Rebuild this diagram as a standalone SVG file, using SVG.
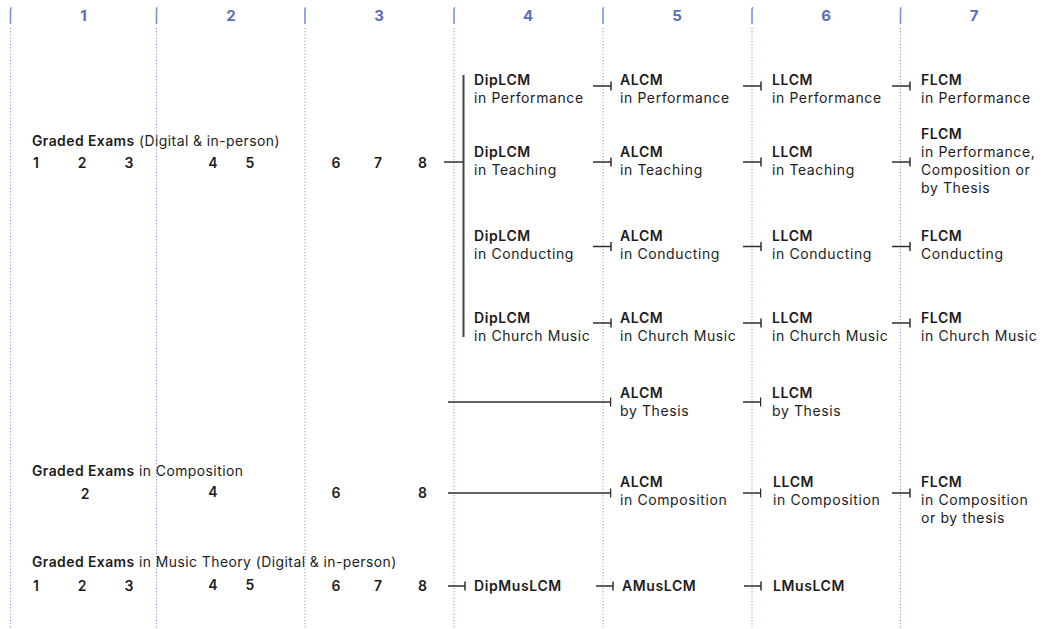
<svg xmlns="http://www.w3.org/2000/svg" width="1047" height="629" viewBox="0 0 1047 629">
<style>
text{font-family:Inter,"Liberation Sans",sans-serif;font-size:14px;fill:#1c1c1c;letter-spacing:0.6px}
.l{font-size:13.9px;letter-spacing:0.45px}
.b{font-weight:600}
.r{font-weight:400}
.h{font-weight:700;fill:#5b6fb9;font-size:15px;text-anchor:middle;letter-spacing:0}
.n{font-weight:600;text-anchor:middle;letter-spacing:0}
.grid{stroke:#6f82d2;stroke-width:1;stroke-dasharray:1 2.2}
.brk{stroke:#7f90d3;stroke-width:1.6;fill:none}
.c{stroke:#2e2e2e;stroke-width:1.5;fill:none}
.bar{stroke:#444;stroke-width:2;fill:none}
</style>
<defs>
<marker id="tick" viewBox="-1 -5 2 10" refX="0" refY="0" markerWidth="2" markerHeight="10" markerUnits="userSpaceOnUse" orient="auto">
<path d="M0,-4.5 V4.5" stroke="#2e2e2e" stroke-width="1.5"/>
</marker>
</defs>
<g id="grid">
<g id="col-lines">
<line class="grid" x1="10.5" y1="28" x2="10.5" y2="629"/>
<line class="grid" x1="156.5" y1="28" x2="156.5" y2="629"/>
<line class="grid" x1="305" y1="28" x2="305" y2="629"/>
<line class="grid" x1="454" y1="28" x2="454" y2="629"/>
<line class="grid" x1="603" y1="28" x2="603" y2="629"/>
<line class="grid" x1="752" y1="28" x2="752" y2="629"/>
<line class="grid" x1="900.5" y1="28" x2="900.5" y2="629"/>
</g>
<g id="brackets">
<path class="brk" d="M11.5,7.5 Q10.5,8 10.5,10 V24"/>
<path class="brk" d="M157.5,7.5 Q156.5,8 156.5,10 V24"/>
<path class="brk" d="M306,7.5 Q305,8 305,10 V24"/>
<path class="brk" d="M455,7.5 Q454,8 454,10 V24"/>
<path class="brk" d="M604,7.5 Q603,8 603,10 V24"/>
<path class="brk" d="M753,7.5 Q752,8 752,10 V24"/>
<path class="brk" d="M901.5,7.5 Q900.5,8 900.5,10 V24"/>
</g>
<g id="headers">
<text class="h" x="83.5" y="21">1</text>
<text class="h" x="231" y="21">2</text>
<text class="h" x="379" y="21">3</text>
<text class="h" x="528" y="21">4</text>
<text class="h" x="677" y="21">5</text>
<text class="h" x="826" y="21">6</text>
<text class="h" x="974" y="21">7</text>
</g>
</g>
<g id="connectors">
<line class="bar" x1="463.5" y1="75" x2="463.5" y2="337"/>
<line class="c" x1="444" y1="162" x2="463" y2="162"/>
<line class="c" x1="593" y1="86" x2="611" y2="86" marker-end="url(#tick)"/>
<line class="c" x1="743" y1="86" x2="761" y2="86" marker-end="url(#tick)"/>
<line class="c" x1="892" y1="86" x2="910" y2="86" marker-end="url(#tick)"/>
<line class="c" x1="593" y1="162" x2="611" y2="162" marker-end="url(#tick)"/>
<line class="c" x1="743" y1="162" x2="761" y2="162" marker-end="url(#tick)"/>
<line class="c" x1="892" y1="162" x2="910" y2="162" marker-end="url(#tick)"/>
<line class="c" x1="593" y1="246.5" x2="611" y2="246.5" marker-end="url(#tick)"/>
<line class="c" x1="743" y1="246.5" x2="761" y2="246.5" marker-end="url(#tick)"/>
<line class="c" x1="892" y1="246.5" x2="910" y2="246.5" marker-end="url(#tick)"/>
<line class="c" x1="593" y1="323" x2="611" y2="323" marker-end="url(#tick)"/>
<line class="c" x1="743" y1="323" x2="761" y2="323" marker-end="url(#tick)"/>
<line class="c" x1="892" y1="323" x2="910" y2="323" marker-end="url(#tick)"/>
<line class="c" x1="448" y1="402" x2="610.5" y2="402" marker-end="url(#tick)"/>
<line class="c" x1="743" y1="402" x2="760.5" y2="402" marker-end="url(#tick)"/>
<line class="c" x1="448" y1="493" x2="610.5" y2="493" marker-end="url(#tick)"/>
<line class="c" x1="743" y1="493" x2="760.5" y2="493" marker-end="url(#tick)"/>
<line class="c" x1="892" y1="493" x2="910" y2="493" marker-end="url(#tick)"/>
<line class="c" x1="448" y1="586" x2="465" y2="586" marker-end="url(#tick)"/>
<line class="c" x1="596" y1="586" x2="613" y2="586" marker-end="url(#tick)"/>
<line class="c" x1="744" y1="586" x2="761" y2="586" marker-end="url(#tick)"/>
</g>
<g id="graded-exams">
<text class="l" x="32" y="145.5"><tspan class="b">Graded Exams</tspan><tspan class="r"> (Digital &amp; in-person)</tspan></text>
<text class="n" x="36" y="167.5">1</text>
<text class="n" x="82" y="167.5">2</text>
<text class="n" x="129" y="167.5">3</text>
<text class="n" x="213" y="167.5">4</text>
<text class="n" x="250" y="167.5">5</text>
<text class="n" x="336" y="167.5">6</text>
<text class="n" x="378" y="167.5">7</text>
<text class="n" x="422.5" y="167.5">8</text>
</g>
<g id="graded-composition">
<text class="l" x="32" y="476"><tspan class="b">Graded Exams</tspan><tspan class="r"> in Composition</tspan></text>
<text class="n" x="85" y="499">2</text>
<text class="n" x="213" y="496.5">4</text>
<text class="n" x="336" y="498">6</text>
<text class="n" x="422.5" y="498">8</text>
</g>
<g id="graded-theory">
<text class="l" x="32" y="566.5"><tspan class="b">Graded Exams</tspan><tspan class="r"> in Music Theory (Digital &amp; in-person)</tspan></text>
<text class="n" x="36" y="591">1</text>
<text class="n" x="82" y="591">2</text>
<text class="n" x="129" y="591">3</text>
<text class="n" x="213" y="589.5">4</text>
<text class="n" x="250" y="589.5">5</text>
<text class="n" x="336" y="591">6</text>
<text class="n" x="378" y="591">7</text>
<text class="n" x="422.5" y="591">8</text>
</g>
<g id="dip-performance"><text class="b" x="474" y="85">DipLCM</text><text class="r" x="474" y="103">in Performance</text></g>
<g id="alcm-performance"><text class="b" x="620" y="85">ALCM</text><text class="r" x="620" y="103">in Performance</text></g>
<g id="llcm-performance"><text class="b" x="772" y="85">LLCM</text><text class="r" x="772" y="103">in Performance</text></g>
<g id="flcm-performance"><text class="b" x="921" y="85">FLCM</text><text class="r" x="921" y="103">in Performance</text></g>
<g id="dip-teaching"><text class="b" x="474" y="157">DipLCM</text><text class="r" x="474" y="175">in Teaching</text></g>
<g id="alcm-teaching"><text class="b" x="620" y="157">ALCM</text><text class="r" x="620" y="175">in Teaching</text></g>
<g id="llcm-teaching"><text class="b" x="772" y="157">LLCM</text><text class="r" x="772" y="175">in Teaching</text></g>
<g id="flcm-combined"><text class="b" x="921" y="139">FLCM</text><text class="r" x="921" y="157">in Performance,</text><text class="r" x="921" y="175">Composition or</text><text class="r" x="921" y="193">by Thesis</text></g>
<g id="dip-conducting"><text class="b" x="474" y="241">DipLCM</text><text class="r" x="474" y="259">in Conducting</text></g>
<g id="alcm-conducting"><text class="b" x="620" y="241">ALCM</text><text class="r" x="620" y="259">in Conducting</text></g>
<g id="llcm-conducting"><text class="b" x="772" y="241">LLCM</text><text class="r" x="772" y="259">in Conducting</text></g>
<g id="flcm-conducting"><text class="b" x="921" y="241">FLCM</text><text class="r" x="921" y="259">Conducting</text></g>
<g id="dip-church"><text class="b" x="474" y="322.5">DipLCM</text><text class="r" x="474" y="340.5">in Church Music</text></g>
<g id="alcm-church"><text class="b" x="620" y="322.5">ALCM</text><text class="r" x="620" y="340.5">in Church Music</text></g>
<g id="llcm-church"><text class="b" x="772" y="322.5">LLCM</text><text class="r" x="772" y="340.5">in Church Music</text></g>
<g id="flcm-church"><text class="b" x="921" y="322.5">FLCM</text><text class="r" x="921" y="340.5">in Church Music</text></g>
<g id="alcm-thesis"><text class="b" x="620" y="397.5">ALCM</text><text class="r" x="620" y="415.5">by Thesis</text></g>
<g id="llcm-thesis"><text class="b" x="772" y="397.5">LLCM</text><text class="r" x="772" y="415.5">by Thesis</text></g>
<g id="alcm-composition"><text class="b" x="620" y="486.5">ALCM</text><text class="r" x="620" y="504.5">in Composition</text></g>
<g id="llcm-composition"><text class="b" x="773" y="486.5">LLCM</text><text class="r" x="773" y="504.5">in Composition</text></g>
<g id="flcm-composition"><text class="b" x="921" y="486.5">FLCM</text><text class="r" x="921" y="504.5">in Composition</text><text class="r" x="921" y="522.5">or by thesis</text></g>
<g id="dipmuslcm"><text class="b" x="474" y="591">DipMusLCM</text></g>
<g id="amuslcm"><text class="b" x="622" y="591">AMusLCM</text></g>
<g id="lmuslcm"><text class="b" x="773" y="591">LMusLCM</text></g>
</svg>
